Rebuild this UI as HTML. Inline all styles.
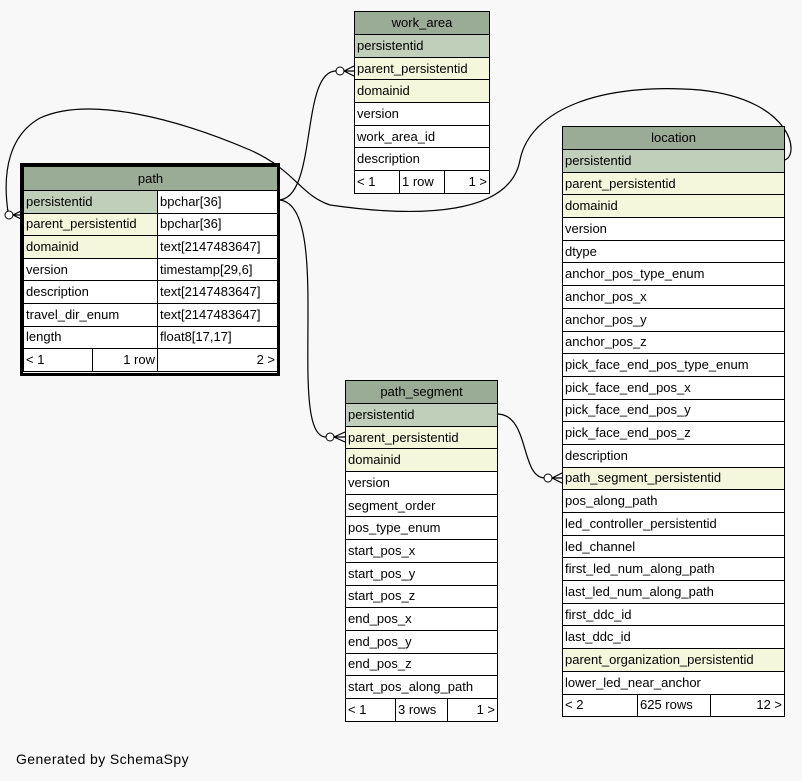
<!DOCTYPE html>
<html><head><style>
body{margin:0;width:802px;height:781px;background:#f8f8f8;position:relative;overflow:hidden;font-family:"Liberation Sans",sans-serif}
table{position:absolute;border-collapse:collapse;font-size:13px;background:#fff;table-layout:fixed}
td{border:1px solid #000;padding:0 2px;white-space:nowrap;overflow:hidden;line-height:14px}
td.h{background:#9aab96;text-align:center}
.p{background:#bfcfba}
.f{background:#f4f7dc}
.r{text-align:right}
svg{position:absolute;left:0;top:0}
#gen{position:absolute;left:16px;top:751px;font-size:14px;letter-spacing:.4px}
</style></head><body>
<svg width="802" height="781">
<g fill="none" stroke="#000" stroke-width="1.2">
<path d="M278,200 C318,200 300,71 336,71"/>
<path d="M278,200 C335,200 285,437 326,437"/>
<path d="M497,414 C530,414 520,478 545,478"/>
<path d="M784,160 C800,158 795,100 700,90 C600,82 530,110 520,160 C510,215 420,218 330,205 C300,195 295,170 250,150 C180,120 90,95 40,118 C10,135 2,170 8,212"/>
</g>
<g fill="#fff" stroke="#000" stroke-width="1">
<circle cx="340" cy="71" r="4"/>
<circle cx="330" cy="437" r="4"/>
<circle cx="548" cy="478" r="4"/>
<circle cx="9" cy="215" r="4"/>
</g>
<g stroke="#000" stroke-width="1.2" fill="none">
<path d="M344,71 L354,66 M344,71 L354,71 M344,71 L354,76"/>
<path d="M334,437 L345,432 M334,437 L345,437 M334,437 L345,442"/>
<path d="M552,478 L562,473 M552,478 L562,478 M552,478 L562,483"/>
<path d="M13,215 L23,210 M13,215 L23,215 M13,215 L23,220"/>
</g>
<rect x="21.5" y="164.5" width="257" height="210" fill="none" stroke="#000" stroke-width="3"/>
</svg>

<table style="left:354px;top:11px;width:135px">
<colgroup><col style="width:45px"><col style="width:45px"><col style="width:45px"></colgroup>
<tr style="height:23px"><td class="h" colspan="3">work_area</td></tr>
<tr style="height:22.7px"><td class="p" colspan="3">persistentid</td></tr>
<tr style="height:22.7px"><td class="f" colspan="3">parent_persistentid</td></tr>
<tr style="height:22.7px"><td class="f" colspan="3">domainid</td></tr>
<tr style="height:22.7px"><td colspan="3">version</td></tr>
<tr style="height:22.7px"><td colspan="3">work_area_id</td></tr>
<tr style="height:22.7px"><td colspan="3">description</td></tr>
<tr style="height:22.7px"><td>&lt; 1</td><td>1 row</td><td class="r">1 &gt;</td></tr>
</table>

<table style="left:23px;top:166px;width:254px">
<colgroup><col style="width:69px"><col style="width:65px"><col style="width:120px"></colgroup>
<tr style="height:24px"><td class="h" colspan="3">path</td></tr>
<tr style="height:22.6px"><td class="p" colspan="2">persistentid</td><td>bpchar[36]</td></tr>
<tr style="height:22.6px"><td class="f" colspan="2">parent_persistentid</td><td>bpchar[36]</td></tr>
<tr style="height:22.6px"><td class="f" colspan="2">domainid</td><td>text[2147483647]</td></tr>
<tr style="height:22.6px"><td colspan="2">version</td><td>timestamp[29,6]</td></tr>
<tr style="height:22.6px"><td colspan="2">description</td><td>text[2147483647]</td></tr>
<tr style="height:22.6px"><td colspan="2">travel_dir_enum</td><td>text[2147483647]</td></tr>
<tr style="height:22.6px"><td colspan="2">length</td><td>float8[17,17]</td></tr>
<tr style="height:22.6px"><td>&lt; 1</td><td class="r">1 row</td><td class="r">2 &gt;</td></tr>
</table>

<table style="left:345px;top:380px;width:152px">
<colgroup><col style="width:50px"><col style="width:52px"><col style="width:50px"></colgroup>
<tr style="height:23px"><td class="h" colspan="3">path_segment</td></tr>
<tr style="height:22.7px"><td class="p" colspan="3">persistentid</td></tr>
<tr style="height:22.7px"><td class="f" colspan="3">parent_persistentid</td></tr>
<tr style="height:22.7px"><td class="f" colspan="3">domainid</td></tr>
<tr style="height:22.7px"><td colspan="3">version</td></tr>
<tr style="height:22.7px"><td colspan="3">segment_order</td></tr>
<tr style="height:22.7px"><td colspan="3">pos_type_enum</td></tr>
<tr style="height:22.7px"><td colspan="3">start_pos_x</td></tr>
<tr style="height:22.7px"><td colspan="3">start_pos_y</td></tr>
<tr style="height:22.7px"><td colspan="3">start_pos_z</td></tr>
<tr style="height:22.7px"><td colspan="3">end_pos_x</td></tr>
<tr style="height:22.7px"><td colspan="3">end_pos_y</td></tr>
<tr style="height:22.7px"><td colspan="3">end_pos_z</td></tr>
<tr style="height:22.7px"><td colspan="3">start_pos_along_path</td></tr>
<tr style="height:22.7px"><td>&lt; 1</td><td>3 rows</td><td class="r">1 &gt;</td></tr>
</table>

<table style="left:562px;top:126px;width:222px">
<colgroup><col style="width:75px"><col style="width:73px"><col style="width:74px"></colgroup>
<tr style="height:23px"><td class="h" colspan="3">location</td></tr>
<tr style="height:22.7px"><td class="p" colspan="3">persistentid</td></tr>
<tr style="height:22.7px"><td class="f" colspan="3">parent_persistentid</td></tr>
<tr style="height:22.7px"><td class="f" colspan="3">domainid</td></tr>
<tr style="height:22.7px"><td colspan="3">version</td></tr>
<tr style="height:22.7px"><td colspan="3">dtype</td></tr>
<tr style="height:22.7px"><td colspan="3">anchor_pos_type_enum</td></tr>
<tr style="height:22.7px"><td colspan="3">anchor_pos_x</td></tr>
<tr style="height:22.7px"><td colspan="3">anchor_pos_y</td></tr>
<tr style="height:22.7px"><td colspan="3">anchor_pos_z</td></tr>
<tr style="height:22.7px"><td colspan="3">pick_face_end_pos_type_enum</td></tr>
<tr style="height:22.7px"><td colspan="3">pick_face_end_pos_x</td></tr>
<tr style="height:22.7px"><td colspan="3">pick_face_end_pos_y</td></tr>
<tr style="height:22.7px"><td colspan="3">pick_face_end_pos_z</td></tr>
<tr style="height:22.7px"><td colspan="3">description</td></tr>
<tr style="height:22.7px"><td class="f" colspan="3">path_segment_persistentid</td></tr>
<tr style="height:22.7px"><td colspan="3">pos_along_path</td></tr>
<tr style="height:22.7px"><td colspan="3">led_controller_persistentid</td></tr>
<tr style="height:22.7px"><td colspan="3">led_channel</td></tr>
<tr style="height:22.7px"><td colspan="3">first_led_num_along_path</td></tr>
<tr style="height:22.7px"><td colspan="3">last_led_num_along_path</td></tr>
<tr style="height:22.7px"><td colspan="3">first_ddc_id</td></tr>
<tr style="height:22.7px"><td colspan="3">last_ddc_id</td></tr>
<tr style="height:22.7px"><td class="f" colspan="3">parent_organization_persistentid</td></tr>
<tr style="height:22.7px"><td colspan="3">lower_led_near_anchor</td></tr>
<tr style="height:22.7px"><td>&lt; 2</td><td>625 rows</td><td class="r">12 &gt;</td></tr>
</table>

<div id="gen">Generated by SchemaSpy</div>
</body></html>
